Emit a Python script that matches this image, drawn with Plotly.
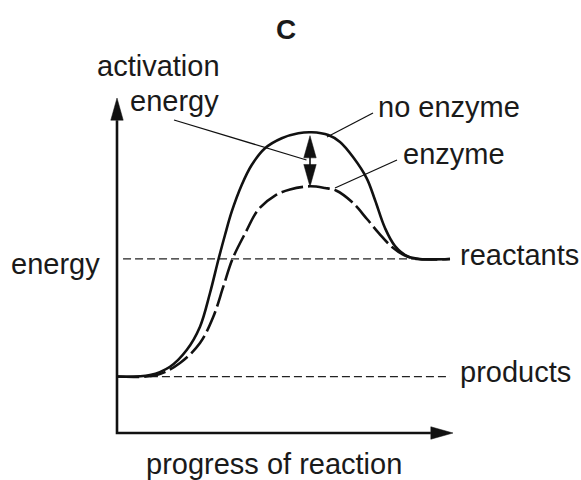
import plotly.graph_objects as go

# ---------------- data ----------------
progress_no_enzyme = [0, 9.82, 15.77, 20.74, 24.70, 27.68, 30.15, 32.14, 34.14, 37.11, 40.09,
                      44.05, 49.02, 53.96, 57.95, 62.89, 66.37, 70.24, 74.32, 76.79, 79.76,
                      82.74, 86.61, 90.18, 99.11]
energy_no_enzyme = [16.8, 17.26, 19.73, 24.70, 31.64, 41.67, 51.49, 58.93, 65.86, 73.81, 79.76,
                    84.73, 87.71, 89.20, 89.49, 88.69, 86.61, 82.14, 75.80, 69.35, 61.01,
                    55.65, 52.53, 51.8, 51.8]

progress_enzyme = [0, 11.82, 18.75, 24.70, 28.66, 31.64, 34.38, 38.39, 42.05, 47.02, 51.49,
                   57.44, 61.90, 65.18, 69.94, 74.40, 77.98, 81.76, 85.71, 89.29, 99.11]
energy_enzyme = [16.8, 17.26, 20.83, 26.79, 34.61, 43.54, 51.79, 59.91, 66.52, 70.68, 72.47,
                 73.42, 72.92, 72.17, 68.75, 63.69, 59.43, 55.45, 52.83, 51.8, 51.8]

level_names = ["reactants", "products"]
level_values = [51.8, 16.8]
level_starts = [1.8, 9.8]
level_ends = [90.2, 99.1]

curve_labels = ["no enzyme", "enzyme"]
title_text = "C"
x_title = "progress of reaction"
y_title = "energy"
activation_label = ["activation", "energy"]

# ---------------- geometry helpers ----------------
W, H = 581, 480
OX, OY, S = 117, 433, 3.36          # pixel origin of the axes and pixels per unit
AX_X_MAX, AX_Y_MAX = 100.0, 99.7    # axis arrow tips (data units)
HEAD_LEN, HEAD_HALF = 6.6, 1.85
FONT = "Liberation Sans, Arial, Helvetica, sans-serif"
FS = 29
INK = "#111111"


def dx(px):
    return (px - OX) / S


def dy(py):
    return (OY - py) / S


fig = go.Figure()

# dashed energy levels
for v, x0, x1 in zip(level_values, level_starts, level_ends):
    fig.add_trace(go.Scatter(x=[x0, x1], y=[v, v], mode="lines",
                             line=dict(color="#222222", width=1.3, dash="8px,4px"),
                             hoverinfo="skip"))

# curves
fig.add_trace(go.Scatter(x=progress_enzyme, y=energy_enzyme, mode="lines",
                         line=dict(color=INK, width=2.6, shape="spline",
                                   smoothing=1.0, dash="22px,5px"),
                         name=curve_labels[1]))
fig.add_trace(go.Scatter(x=progress_no_enzyme, y=energy_no_enzyme, mode="lines",
                         line=dict(color=INK, width=2.6, shape="spline", smoothing=1.0),
                         name=curve_labels[0]))

# axes lines
fig.add_trace(go.Scatter(x=[0, 0, AX_X_MAX - HEAD_LEN], y=[AX_Y_MAX - HEAD_LEN, 0, 0],
                         mode="lines", line=dict(color=INK, width=2.6),
                         hoverinfo="skip"))


def head(tip_x, tip_y, ux, uy):
    # filled triangle with tip at (tip_x, tip_y) pointing in direction (ux, uy)
    bx, by = tip_x - ux * HEAD_LEN, tip_y - uy * HEAD_LEN
    px_, py_ = -uy * HEAD_HALF, ux * HEAD_HALF
    fig.add_trace(go.Scatter(x=[tip_x, bx + px_, bx - px_, tip_x],
                             y=[tip_y, by + py_, by - py_, tip_y],
                             mode="lines", fill="toself", fillcolor=INK,
                             line=dict(color=INK, width=0.5), hoverinfo="skip"))


head(0, AX_Y_MAX, 0, 1)
head(AX_X_MAX, 0, 1, 0)

# activation-energy double arrow between the two peaks
arrow_x = progress_enzyme[energy_enzyme.index(max(energy_enzyme))]
top_tip = max(energy_no_enzyme) - 1.0
bot_tip = max(energy_enzyme) - 0.1
fig.add_trace(go.Scatter(x=[arrow_x, arrow_x], y=[top_tip - 3, bot_tip + 3], mode="lines",
                         line=dict(color=INK, width=1.6), hoverinfo="skip"))
head(arrow_x, top_tip, 0, 1)
head(arrow_x, bot_tip, 0, -1)

# leader lines
leaders = [((174, 120), (306.5, 160)),
           ((373, 113), (327, 137)),
           ((397, 160), (335, 188))]
for (a, b) in leaders:
    fig.add_trace(go.Scatter(x=[dx(a[0]), dx(b[0])], y=[dy(a[1]), dy(b[1])], mode="lines",
                             line=dict(color=INK, width=1.3), hoverinfo="skip"))

# ---------------- text ----------------
DESC = 6  # descent below baseline in px


def label(text, left_px, baseline_px, anchor="left", bold=False, size=FS):
    fig.add_annotation(x=left_px / W, y=1 - (baseline_px + DESC) / H, xref="paper", yref="paper",
                       text=("<b>%s</b>" % text) if bold else text, showarrow=False,
                       xanchor=anchor, yanchor="bottom", borderpad=0,
                       font=dict(family=FONT, size=size, color="#1a1a1a"))


label(title_text, 286, 40, anchor="center", bold=True, size=28)
label(activation_label[0], 95.5, 77)
label(activation_label[1], 128.5, 112)
label(curve_labels[0], 376.5, 118)
label(curve_labels[1], 401.5, 165)
label(y_title, 9.5, 275)
label(level_names[0], 458.5, 266)
label(level_names[1], 458.5, 383)
label(x_title, 273.5, 475, anchor="center")

fig.update_layout(
    width=W, height=H, margin=dict(l=0, r=0, t=0, b=0),
    paper_bgcolor="white", plot_bgcolor="white", showlegend=False,
    xaxis=dict(visible=False, range=[dx(0), dx(W)], fixedrange=True),
    yaxis=dict(visible=False, range=[dy(H), dy(0)], fixedrange=True),
)

fig.write_html("out.html", config={"displayModeBar": False},
               post_script="document.body.style.margin='0';document.body.style.overflow='hidden';")
